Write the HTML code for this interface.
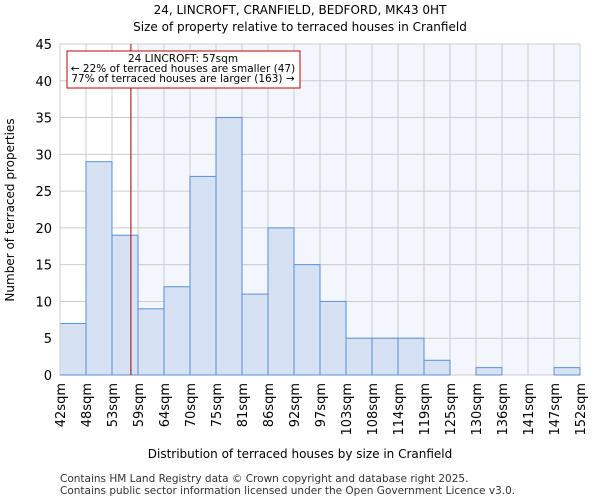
<!DOCTYPE html>
<html><head><meta charset="utf-8"><style>
body{margin:0;background:#fff;font-family:"DejaVu Sans","Liberation Sans",sans-serif;}
</style></head><body>
<svg id="c" width="600" height="500" xmlns="http://www.w3.org/2000/svg" font-family="DejaVu Sans, Liberation Sans, sans-serif">
<text x="300" y="14" font-size="12" text-anchor="middle">24, LINCROFT, CRANFIELD, BEDFORD, MK43 0HT</text>
<text x="300" y="31" font-size="12" text-anchor="middle">Size of property relative to terraced houses in Cranfield</text>
<g id="plot"></g>
<text x="300" y="458" font-size="12" text-anchor="middle">Distribution of terraced houses by size in Cranfield</text>
<text transform="translate(14,210) rotate(-90)" font-size="12" text-anchor="middle">Number of terraced properties</text>
<text x="60" y="482" font-size="10.5" fill="#333">Contains HM Land Registry data © Crown copyright and database right 2025.</text>
<text x="60" y="494" font-size="10.5" fill="#333">Contains public sector information licensed under the Open Government Licence v3.0.</text>
</svg>
<script>
const categories=["42sqm","48sqm","53sqm","59sqm","64sqm","70sqm","75sqm","81sqm","86sqm","92sqm","97sqm","103sqm","108sqm","114sqm","119sqm","125sqm","130sqm","136sqm","141sqm","147sqm","152sqm"];
const values=[7,29,19,9,12,27,35,11,20,15,10,5,5,5,2,0,1,0,0,1];
const yTicks=[0,5,10,15,20,25,30,35,40,45];
const marker=57;
const binStart=42, binEnd=152;
const L=60,R=580,T=44,B=375,YMAX=45;
const n=values.length, bw=(R-L)/n;
const x=i=>L+i*bw;
const xv=v=>L+(v-binStart)/(binEnd-binStart)*(R-L);
const y=v=>B-v/YMAX*(B-T);
const NS="http://www.w3.org/2000/svg";
const g=document.getElementById('plot');
function mk(t,a){const e=document.createElementNS(NS,t);for(const k in a)e.setAttribute(k,a[k]);g.appendChild(e);return e;}
const mx=xv(marker);
let e=mk('rect',{x:mx+7,y:T,width:R-mx-7,height:B-T,fill:'#f3f6fd'});


yTicks.forEach(t=>{
 let l=mk('line',{x1:L,x2:R,y1:y(t),y2:y(t),stroke:'#ccc'});
 
 
 let tx=mk('text',{x:L-8,y:y(t)+5,'font-size':13,'text-anchor':'end'});tx.textContent=t;
 
 
});
categories.forEach((c,i)=>{
 let l=mk('line',{x1:x(i),x2:x(i),y1:T,y2:B,stroke:'#ccc'});
 
 
 let tx=mk('text',{transform:`translate(${x(i)+5},${B+8}) rotate(-90)`,'font-size':13,'text-anchor':'end'});tx.textContent=c;
 
 
});
values.forEach((v,i)=>{
 if(v<=0)return;
 let r=mk('rect',{x:x(i),y:y(v),width:bw,height:B-y(v),fill:'#d6e1f3',stroke:'#5b8fd6','stroke-width':1});
 
 
});
e=mk('line',{x1:L,x2:L,y1:T,y2:B,stroke:'#ccc'});
e=mk('line',{x1:mx,x2:mx,y1:T,y2:B,stroke:'#a00000','stroke-width':1});


e=mk('rect',{x:67,y:51,width:233,height:37,fill:'#fff',stroke:'#c00000'});


[["24 LINCROFT: 57sqm",62],["← 22% of terraced houses are smaller (47)",72],["77% of terraced houses are larger (163) →",82]].forEach(([s,yy],k)=>{
 let t=mk('text',{x:183,y:yy,'font-size':10.5,'text-anchor':'middle'});t.textContent=s;
 
 
});
</script>
</body></html>
